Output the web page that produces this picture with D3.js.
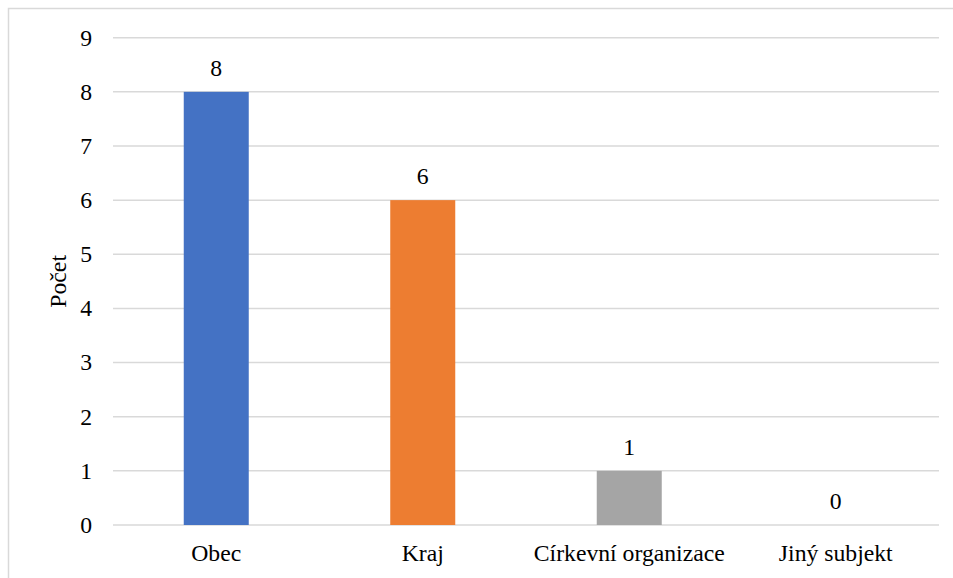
<!DOCTYPE html>
<html><head><meta charset="utf-8"><script src="https://cdn.jsdelivr.net/npm/d3@7"></script>
<style>
  html, body { margin: 0; padding: 0; background: #fff; }
  svg { display: block; }
</style>
</head>
<body>
<svg id="chart" width="953" height="578"></svg>
<script>
const categories = ["Obec", "Kraj", "Církevní organizace", "Jiný subjekt"];
const values = [8, 6, 1, 0];
const colors = ["#4472C4", "#ED7D31", "#A5A5A5", "#FFC000"];
const yTicks = [0, 1, 2, 3, 4, 5, 6, 7, 8, 9];
const yTitle = "Počet";

(function () {
const fs = "23.7px";

const svg = d3.select("#chart");
const W = 953, H = 578;
const mLeft = 113, mRight = 939, mTop = 37.7, mBottom = 525;

svg.append("rect")
  .attr("x", 8.5).attr("y", 8.5)
  .attr("width", W).attr("height", H)
  .attr("fill", "none").attr("stroke", "#D9D9D9").attr("stroke-width", 1.5);

const x = d3.scaleBand().domain(categories).range([mLeft, mRight]);
const y = d3.scaleLinear().domain([0, 9]).range([mBottom, mTop]);

svg.append("g").selectAll("line").data(yTicks).join("line")
  .attr("x1", mLeft).attr("x2", mRight)
  .attr("y1", d => y(d)).attr("y2", d => y(d))
  .attr("stroke", "#D9D9D9").attr("stroke-width", 1.5);

svg.selectAll("text.ytick").data(yTicks).join("text")
  .attr("class", "ytick")
  .attr("x", mLeft - 21)
  .attr("y", d => y(d))
  .attr("dy", "0.33em")
  .attr("text-anchor", "end")
  .style("font-size", fs)
  .text(d => d3.format("d")(d));

const bw = 65;
svg.append("g").selectAll("rect").data(values).join("rect")
  .attr("x", (d, i) => x(categories[i]) + x.bandwidth() / 2 - bw / 2)
  .attr("width", bw)
  .attr("y", d => y(d))
  .attr("height", d => y(0) - y(d))
  .attr("fill", (d, i) => colors[i]);

svg.selectAll("text.val").data(values).join("text")
  .attr("class", "val")
  .attr("x", (d, i) => x(categories[i]) + x.bandwidth() / 2)
  .attr("y", d => y(d) - 16)
  .attr("text-anchor", "middle")
  .style("font-size", fs)
  .text(d => d);

svg.selectAll("text.xcat").data(categories).join("text")
  .attr("class", "xcat")
  .attr("x", d => x(d) + x.bandwidth() / 2)
  .attr("y", mBottom + 36)
  .attr("text-anchor", "middle")
  .style("font-size", fs)
  .text(d => d);

svg.append("text")
  .attr("transform", `translate(66,${(mTop + mBottom) / 2}) rotate(-90)`)
  .attr("text-anchor", "middle")
  .style("font-size", fs)
  .text(yTitle);
})();
</script></body></html>
